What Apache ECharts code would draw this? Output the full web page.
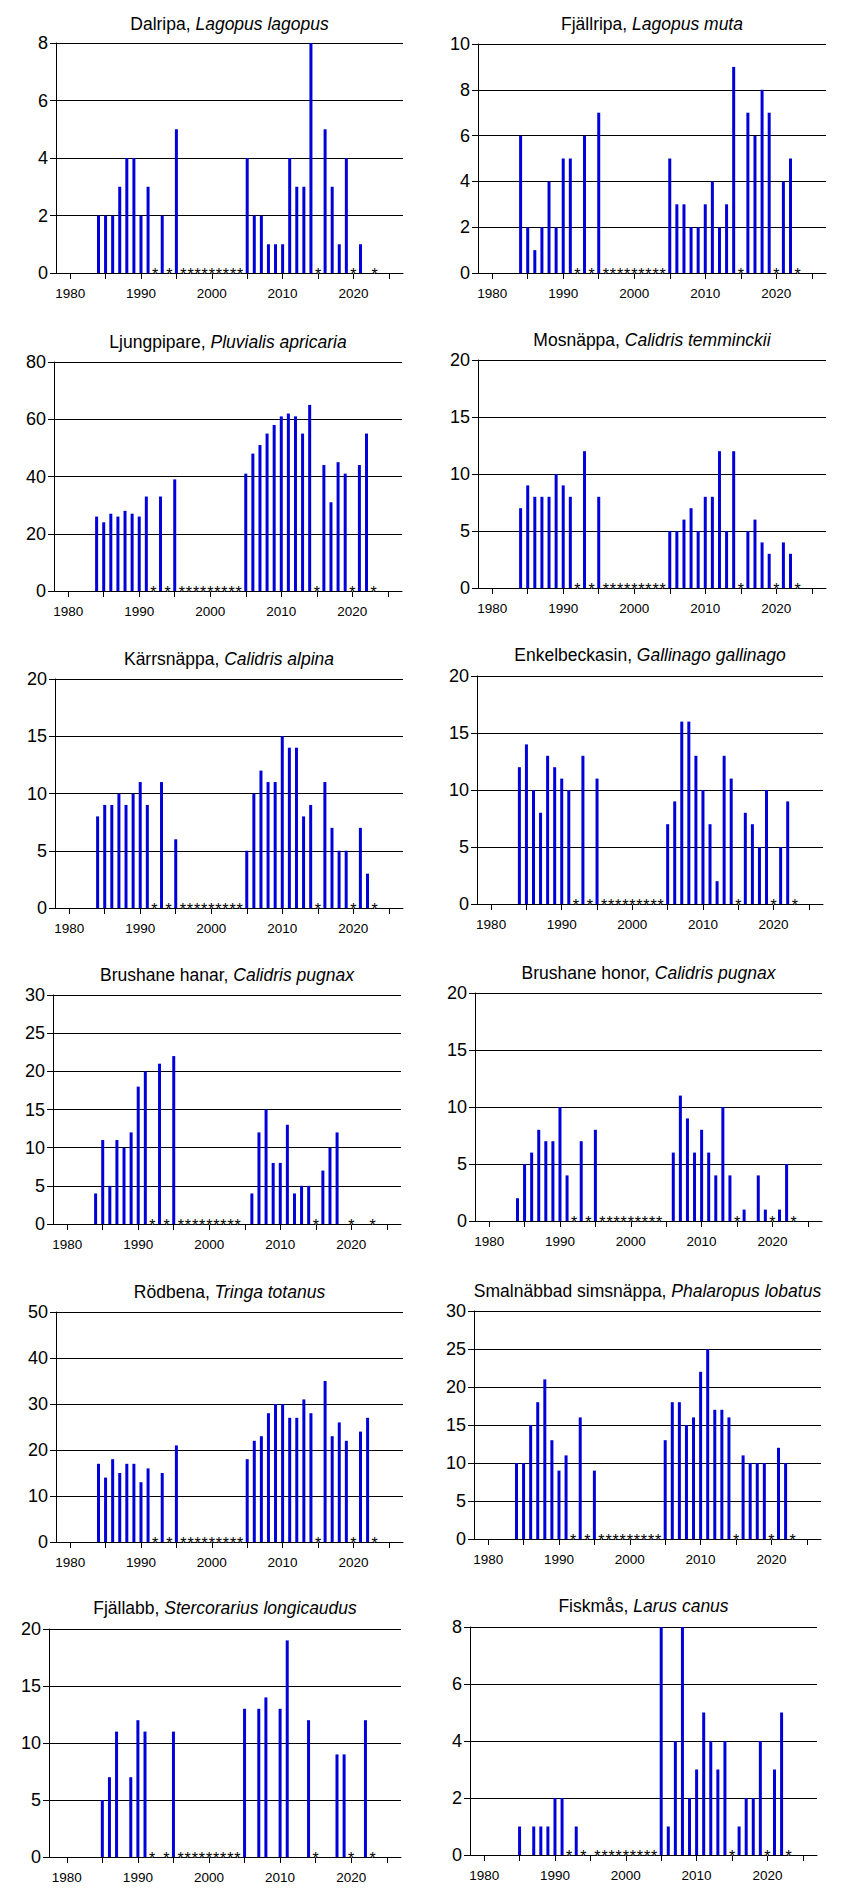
<!DOCTYPE html>
<html>
<head>
<meta charset="utf-8">
<script src="https://cdn.jsdelivr.net/npm/echarts@6/dist/echarts.min.js"></script>
<style>
html,body{margin:0;padding:0;background:#fff;}
#chart{width:848px;height:1902px;}
</style>
</head>
<body>
<div id="chart"></div>
<script>
// ---- Data ----
const years = [1984,1985,1986,1987,1988,1989,1990,1991,1992,1993,1994,1995,1996,1997,1998,1999,2000,2001,2002,2003,2004,2005,2006,2007,2008,2009,2010,2011,2012,2013,2014,2015,2016,2017,2018,2019,2020,2021,2022];
const missingYears = [1992,1994,1996,1997,1998,1999,2000,2001,2002,2003,2004,2015,2020,2023];
const xTickYears = [1980,1985,1990,1995,2000,2005,2010,2015,2020,2025];
const xLabelYears = [1980,1990,2000,2010,2020];

const titlesCommon = ["Dalripa","Fjällripa","Ljungpipare","Mosnäppa","Kärrsnäppa","Enkelbeckasin","Brushane hanar","Brushane honor","Rödbena","Smalnäbbad simsnäppa","Fjällabb","Fiskmås"];
const titlesLatin = ["Lagopus lagopus","Lagopus muta","Pluvialis apricaria","Calidris temminckii","Calidris alpina","Gallinago gallinago","Calidris pugnax","Calidris pugnax","Tringa totanus","Phalaropus lobatus","Stercorarius longicaudus","Larus canus"];
const yMax = [8,10,80,20,20,20,30,20,50,30,20,8];
const yStep = [2,2,20,5,5,5,5,5,10,5,5,2];

const _ = null;
const dalripa =        [2,2,2,3,4,4,2,3,_,2,_,5, _,_,_,_,_,_,_,_,_, 4,2,2,1,1,1,4,3,3,8,_,5,3,1,4,_,1,_];
const fjallripa =      [6,2,1,2,4,2,5,5,_,6,_,7, _,_,_,_,_,_,_,_,_, 5,3,3,2,2,3,4,2,3,9,_,7,6,8,7,_,4,5];
const ljungpipare =    [26,24,27,26,28,27,26,33,_,33,_,39, _,_,_,_,_,_,_,_,_, 41,48,51,55,58,61,62,61,55,65,_,44,31,45,41,_,44,55];
const mosnappa =       [7,9,8,8,8,10,9,8,_,12,_,8, _,_,_,_,_,_,_,_,_, 5,5,6,7,5,8,8,12,5,12,_,5,6,4,3,_,4,3];
const karrsnappa =     [8,9,9,10,9,10,11,9,_,11,_,6, _,_,_,_,_,_,_,_,_, 5,10,12,11,11,15,14,14,8,9,_,11,7,5,5,_,7,3];
const enkelbeckasin =  [12,14,10,8,13,12,11,10,_,13,_,11, _,_,_,_,_,_,_,_,_, 7,9,16,16,13,10,7,2,13,11,_,8,7,5,10,_,5,9];
const brushaneHanar =  [4,11,5,11,10,12,18,20,_,21,_,22, _,_,_,_,_,_,_,_,_, _,4,12,15,8,8,13,4,5,5,_,7,10,12,_,_,_,_];
const brushaneHonor =  [2,5,6,8,7,7,10,4,_,7,_,8, _,_,_,_,_,_,_,_,_, _,6,11,9,6,8,6,4,10,4,_,1,_,4,1,_,1,5];
const rodbena =        [17,14,18,15,17,17,13,16,_,15,_,21, _,_,_,_,_,_,_,_,_, 18,22,23,28,30,30,27,27,31,28,_,35,23,26,22,_,24,27];
const smalnabbad =     [10,10,15,18,21,13,9,11,_,16,_,9, _,_,_,_,_,_,_,_,_, 13,18,18,15,16,22,25,17,17,16,_,11,10,10,10,_,12,10];
const fjallabb =       [_,5,7,11,_,7,12,11,_,_,_,11, _,_,_,_,_,_,_,_,_, 13,_,13,14,_,13,19,_,_,12,_,_,_,9,9,_,_,12];
const fiskmas =        [_,1,_,1,1,1,2,2,_,1,_,_, _,_,_,_,_,_,_,_,_, 8,1,4,8,2,3,5,4,3,4,_,1,2,2,4,_,3,5];

const seriesValues = [dalripa,fjallripa,ljungpipare,mosnappa,karrsnappa,enkelbeckasin,brushaneHanar,brushaneHonor,rodbena,smalnabbad,fjallabb,fiskmas];

// ---- Layout (plot rectangles: left, top, right, bottom) and title centre y ----
const plots = [
  [56,43,403,273],[478,44,826,273],
  [54,362,402,591],[478,360,826,588],
  [55,679,403,908],[477,676,823,904],
  [53,995,401,1224],[475,993,822,1221],
  [56,1312,403,1542],[474,1311,821,1539],
  [49,1629,401,1857],[470,1627,817,1855]
];
const titleY = [24,24,342,340,659,655,975,973,1292,1291,1608,1606];
const xMinArr = [1978,1978,1978,1978,1978,1978,1978,1978,1978,1978,1977.5,1978];

const FONT = 'Liberation Sans, Arial, sans-serif';
const BLUE = '#0000d8';

const grid = [], xAxis = [], yAxis = [], series = [], graphic = [];
plots.forEach((p, i) => {
  grid.push({left: p[0], top: p[1], width: p[2]-p[0], height: p[3]-p[1], containLabel: false});
  xAxis.push({
    type: 'value', gridIndex: i, min: xMinArr[i], max: 2027,
    splitLine: {show: false},
    axisLine: {show: true, onZero: false, lineStyle: {color: '#000', width: 1}},
    axisTick: {show: true, customValues: xTickYears, length: 6, lineStyle: {color: '#000', width: 1}},
    axisLabel: {show: true, customValues: xLabelYears, margin: 13, fontSize: 13.5, color: '#000', fontFamily: FONT,
      formatter: v => String(v)}
  });
  yAxis.push({
    type: 'value', gridIndex: i, min: 0, max: yMax[i], interval: yStep[i],
    axisLine: {show: true, lineStyle: {color: '#000', width: 1}},
    axisTick: {show: true, length: 6, lineStyle: {color: '#000', width: 1}},
    splitLine: {show: true, lineStyle: {color: '#000', width: 1}},
    axisLabel: {margin: 8, fontSize: 18, color: '#000', fontFamily: FONT}
  });
  const data = years.map((y, k) => [y, seriesValues[i][k]]).filter(d => d[1] !== null);
  series.push({
    type: 'bar', xAxisIndex: i, yAxisIndex: i, data: data,
    barWidth: 3, itemStyle: {color: BLUE}, animation: false, z: 3
  });
  series.push({
    type: 'scatter', xAxisIndex: i, yAxisIndex: i,
    data: missingYears.map(y => [y, 0]),
    symbol: 'circle', symbolSize: 1, itemStyle: {color: '#ffffff', opacity: 1}, animation: false, z: 5, silent: true,
    label: {show: true, formatter: '*', position: 'inside', offset: [0, 1], fontSize: 16, color: '#000000',
      textBorderWidth: 0, textBorderColor: 'transparent', fontFamily: FONT, opacity: 1}
  });
  graphic.push({
    type: 'text', x: (p[0]+p[2])/2, y: titleY[i], z: 10,
    style: {
      text: '{n|' + titlesCommon[i] + ', }{s|' + titlesLatin[i] + '}',
      align: 'center', verticalAlign: 'middle',
      rich: {
        n: {fontSize: 17.5, fontFamily: FONT, fill: '#000', color: '#000'},
        s: {fontSize: 17.5, fontFamily: FONT, fontStyle: 'italic', fill: '#000', color: '#000'}
      }
    }
  });
});

const chart = echarts.init(document.getElementById('chart'), null, {renderer: 'svg', width: 848, height: 1902});
chart.setOption({
  animation: false,
  backgroundColor: '#fff',
  grid, xAxis, yAxis, series, graphic
});
</script>
</body>
</html>
